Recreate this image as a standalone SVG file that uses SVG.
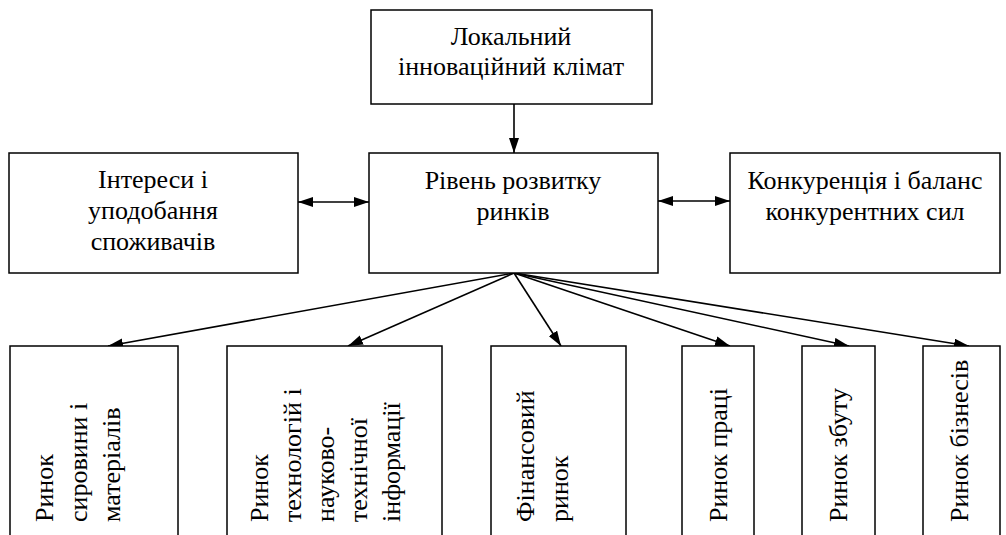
<svg xmlns="http://www.w3.org/2000/svg" width="1006" height="535" viewBox="0 0 1006 535">
<style>
.box{fill:#fff;stroke:#000;stroke-width:1.5}
.ln{stroke:#000;stroke-width:1.6;fill:none}
.t{font-family:'Liberation Serif','Times New Roman',serif;font-size:26px;fill:#000}
.c{text-anchor:middle}
</style>
<defs>
<marker id="ah" viewBox="0 0 15 10" refX="15" refY="5" markerWidth="15" markerHeight="10" markerUnits="userSpaceOnUse" orient="auto-start-reverse">
<path d="M0,0L15,5L0,10z" fill="#000"/>
</marker>
</defs>
<g id="connectors">
<line class="ln" x1="514" y1="104" x2="514" y2="153" marker-end="url(#ah)"/>
<line class="ln" x1="298" y1="202" x2="369" y2="202" marker-start="url(#ah)" marker-end="url(#ah)"/>
<line class="ln" x1="658" y1="201" x2="730" y2="201" marker-start="url(#ah)" marker-end="url(#ah)"/>
<line class="ln" x1="514" y1="273" x2="108" y2="346" marker-end="url(#ah)"/>
<line class="ln" x1="514" y1="273" x2="348" y2="346" marker-end="url(#ah)"/>
<line class="ln" x1="514" y1="273" x2="561" y2="346" marker-end="url(#ah)"/>
<line class="ln" x1="514" y1="273" x2="730" y2="346" marker-end="url(#ah)"/>
<line class="ln" x1="514" y1="273" x2="849" y2="346" marker-end="url(#ah)"/>
<line class="ln" x1="514" y1="273" x2="969" y2="346" marker-end="url(#ah)"/>
</g>
<g id="n-top"><rect class="box" x="371" y="10" width="281" height="94"/>
<text class="t c" x="511" y="45">Локальний</text>
<text class="t c" x="511" y="75">інноваційний клімат</text></g>
<g id="n-left"><rect class="box" x="9" y="153" width="289" height="120"/>
<text class="t c" x="153" y="188">Інтереси і</text>
<text class="t c" x="153" y="219">уподобання</text>
<text class="t c" x="153" y="250">споживачів</text></g>
<g id="n-mid"><rect class="box" x="369" y="153" width="289" height="120"/>
<text class="t c" x="513" y="189">Рівень розвитку</text>
<text class="t c" x="513" y="220">ринків</text></g>
<g id="n-right"><rect class="box" x="730" y="153" width="270" height="120"/>
<text class="t c" x="865" y="189">Конкуренція і баланс</text>
<text class="t c" x="865" y="220">конкурентних сил</text></g>
<g id="n-b1"><rect class="box" x="10" y="346" width="168" height="200"/>
<text class="t" transform="translate(53,522) rotate(-90)">Ринок</text>
<text class="t" transform="translate(87,522) rotate(-90)">сировини і</text>
<text class="t" transform="translate(120,522) rotate(-90)">матеріалів</text></g>
<g id="n-b2"><rect class="box" x="227" y="346" width="215" height="200"/>
<text class="t" transform="translate(268,522) rotate(-90)">Ринок</text>
<text class="t" transform="translate(301,522) rotate(-90)">технологій і</text>
<text class="t" transform="translate(334,522) rotate(-90)">науково-</text>
<text class="t" transform="translate(367,522) rotate(-90)">технічної</text>
<text class="t" transform="translate(400,522) rotate(-90)">інформації</text></g>
<g id="n-b3"><rect class="box" x="491" y="346" width="135" height="200"/>
<text class="t" transform="translate(534,522) rotate(-90)">Фінансовий</text>
<text class="t" transform="translate(568,522) rotate(-90)">ринок</text></g>
<g id="n-b4"><rect class="box" x="682" y="346" width="72" height="200"/>
<text class="t" transform="translate(727,522) rotate(-90)">Ринок праці</text></g>
<g id="n-b5"><rect class="box" x="802" y="346" width="73" height="200"/>
<text class="t" transform="translate(847,522) rotate(-90)">Ринок збуту</text></g>
<g id="n-b6"><rect class="box" x="923" y="346" width="77" height="200"/>
<text class="t" transform="translate(968,522) rotate(-90)">Ринок бізнесів</text></g>
</svg>
